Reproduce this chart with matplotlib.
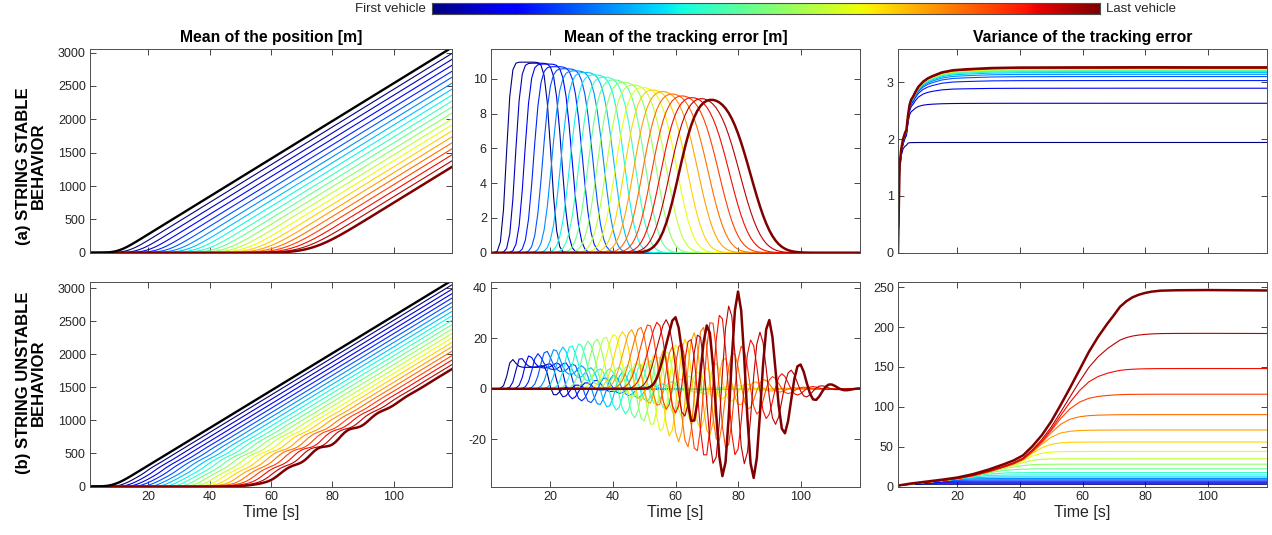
import math
import numpy as np
import matplotlib.pyplot as plt

plt.rcParams['font.family'] = ['Liberation Sans', 'DejaVu Sans']
plt.rcParams['axes.unicode_minus'] = False

# one sample per second, as in the simulation output
time = np.arange(1, 120, 1.0)
cruise_speed = 28.3  # slope of every position line [m/s]

# ---- string stable platoon ----
leader_end_a = 3050
leader_ramp_a = 2.9
pos_a_end = [2960, 2871, 2782, 2692, 2603, 2513, 2424, 2335, 2245, 2156,
             2066, 1977, 1888, 1798, 1709, 1619, 1530, 1440, 1350, 1259]
pos_a_ramp = [3.2, 3.4, 3.6, 3.8, 4.0, 4.2, 4.4, 4.6, 4.8, 5.0,
              5.2, 5.4, 5.6, 5.8, 6.0, 6.2, 6.4, 6.6, 6.8, 7.0]

err_a_peak = [10.96, 10.9, 10.85, 10.7, 10.58, 10.46, 10.37, 10.23, 10.1, 9.94,
              9.8, 9.65, 9.5, 9.36, 9.27, 9.13, 9.02, 8.92, 8.86, 8.79]
err_a_rise = [5.9, 8.8, 11.7, 14.6, 17.5, 20.4, 23.3, 26.2, 29.1, 32.0,
              34.9, 37.8, 40.7, 43.6, 46.5, 49.4, 52.3, 55.2, 58.1, 61.0]
err_a_fall = [20.2, 23.6, 26.9, 30.3, 33.6, 37.0, 40.3, 43.7, 47.1, 50.4,
              53.8, 57.1, 60.5, 63.8, 67.2, 70.5, 73.9, 77.3, 80.6, 84.0]
err_a_edge = [1.2, 1.4, 1.6, 1.75, 1.9, 2.1, 2.25, 2.4, 2.6, 2.75,
              2.9, 3.1, 3.25, 3.4, 3.6, 3.75, 3.9, 4.1, 4.3, 4.5]

var_a_final = [1.94, 2.63, 2.895, 3.03, 3.10, 3.14, 3.17, 3.19, 3.205, 3.215,
               3.225, 3.23, 3.235, 3.24, 3.245, 3.25, 3.253, 3.256, 3.258, 3.262]
var_a_env_t = [1, 1.5, 2, 2.6, 3.2, 3.7, 4.2, 4.7, 5.2, 5.8, 6.5, 7.5, 9, 10.5,
               12, 15, 18.5, 23, 31, 40, 55, 80, 100, 119]
var_a_env_v = [0, 1.45, 1.72, 1.9, 2.0, 2.06, 2.3, 2.48, 2.57, 2.62, 2.7, 2.8, 2.9, 2.97,
               3.02, 3.11, 3.17, 3.2, 3.24, 3.255, 3.26, 3.265, 3.262, 3.262]

# ---- string unstable platoon ----
leader_end_b = 3092
leader_ramp_b = 2.9
pos_b_end = [3025, 2958, 2891, 2824, 2757, 2690, 2623, 2556, 2489, 2422,
             2355, 2288, 2221, 2154, 2087, 2020, 1953, 1886, 1818, 1750]
pos_b_ramp = [3.0, 3.1, 3.2, 3.3, 3.4, 3.5, 3.6, 3.7, 3.8, 3.9,
              4.0, 4.1, 4.2, 4.3, 4.4, 4.5, 4.6, 4.7, 4.8, 4.9]

err_b_first_t = [7.2, 9.9, 12.7, 15.4, 18.1, 20.9, 23.6, 26.3, 29.0, 31.8,
                 34.5, 37.2, 40.0, 42.7, 45.4, 48.2, 50.9, 53.6, 56.3, 59.0]
err_b_first_v = [10.9, 11.5, 12.4, 13.2, 14.5, 15.3, 16.2, 17.0, 17.8, 18.7,
                 19.5, 20.5, 21.5, 22.3, 23.0, 24.0, 25.0, 25.5, 26.2, 27.0]
err_b_first_w = [1.3, 1.4, 1.5, 1.6, 1.7, 1.8, 1.85, 1.9, 2.0, 2.1,
                 2.2, 2.3, 2.4, 2.5, 2.6, 2.7, 2.75, 2.8, 2.8, 2.7]
err_b_level = [8.5, 8.6, 8.5, 8.2, 7.6, 6.8, 6.0, 5.2, 4.4, 3.6,
               3.0, 2.5, 2.0, 1.6, 1.3, 1.0, 0.8, 0.6, 0.4, 0.3]
err_b_hold = [12.3, 12.0, 11.6, 11.2, 10.8, 10.4, 10.0, 9.6, 9.2, 8.8,
              8.4, 8.0, 7.6, 7.2, 6.8, 6.4, 6.0, 5.6, 5.2, 4.8]
err_b_edge = [0.8, 0.9, 1.0, 1.1, 1.2, 1.3, 1.4, 1.5, 1.6, 1.7,
              1.8, 1.9, 2.0, 2.1, 2.2, 2.3, 2.4, 2.5, 2.6, 2.7]
err_b_amp = [2.7, 3.3, 4.0, 4.8, 5.6, 6.5, 7.5, 8.7, 10.3, 12.0,
             13.5, 15.5, 18.0, 20.0, 22.5, 25.0, 27.5, 30.0, 33.0, 38.5]
err_b_center = [21.0, 24.1, 27.2, 30.3, 33.4, 36.5, 39.6, 42.7, 45.8, 48.9,
                52.0, 55.1, 58.2, 61.3, 64.4, 67.5, 70.6, 73.7, 76.8, 80.0]
err_b_spread = [2.7, 3.8, 4.6, 5.4, 6.0, 6.6, 7.1, 7.6, 8.0, 8.5,
                8.9, 9.3, 9.7, 10.0, 10.4, 10.7, 11.1, 11.4, 11.7, 12.0]
err_b_crest = [26.4, 29.2, 32.0, 34.9, 37.7, 40.5, 43.3, 46.1, 49.0, 51.8,
               54.6, 57.4, 60.3, 63.1, 65.9, 68.7, 71.5, 74.4, 77.2, 80.0]
osc_period = 10.0

var_b_final = [2.8, 4.2, 5.5, 6.8, 8.3, 10.0, 12.0, 14.5, 17.5, 22.2,
               28.0, 34.8, 44.0, 55.8, 70.9, 90.2, 115.8, 148.0, 192.0, 246.0]
var_b_env_t = [1, 5, 10, 15, 20, 25, 30, 35, 38, 41, 44, 47, 50, 53, 56, 59, 62, 65,
               68, 70, 72, 74, 76, 78, 80, 82, 85, 90, 100, 110, 119]
var_b_env_v = [1.0, 3.2, 5.3, 7.4, 9.8, 13.5, 18.5, 24.5, 28.5, 34, 44, 56, 71, 89,
               108, 128, 149, 168, 186, 198, 212, 222, 230, 235.5, 239.5, 242.5, 245,
               246, 246.5, 246, 245.5]

n = len(pos_a_end)
colors = plt.cm.jet(np.linspace(0, 1, n))

_erf = np.vectorize(math.erf)


def cdf(z):
    return 0.5 * (1 + _erf(np.asarray(z) / math.sqrt(2)))


def pdf(z):
    return np.exp(-0.5 * np.asarray(z) ** 2) / math.sqrt(2 * math.pi)


def position(end, ramp):
    start = 118 - end / cruise_speed
    z = (time - start) / ramp
    return cruise_speed * ramp * (z * cdf(z) + pdf(z))


def stable_error(k):
    shape = cdf((time - err_a_rise[k]) / err_a_edge[k]) - \
        cdf((time - err_a_fall[k]) / (1.25 * err_a_edge[k]))
    return err_a_peak[k] * shape / shape.max()


def unstable_tail(k, t):
    p = err_b_first_t[k]
    w = err_b_edge[k]
    hold = err_b_level[k] * (cdf((t - p + 0.7) / w) - cdf((t - p - err_b_hold[k]) / w))
    d = t - err_b_center[k]
    sig = np.where(d < 0, 0.9, 1.0) * err_b_spread[k]
    wave = err_b_amp[k] * np.exp(-0.5 * (d / sig) ** 2) * \
        np.cos(2 * np.pi * (t - err_b_crest[k]) / osc_period)
    return hold + wave * cdf(t - p + 1.0)


def unstable_error(k):
    p = err_b_first_t[k]
    h = err_b_first_v[k] - float(unstable_tail(k, np.array([p]))[0])
    bump = h * np.exp(-0.5 * ((time - p) / err_b_first_w[k]) ** 2)
    return bump + unstable_tail(k, time)


def variance(env_t, env_v, final, sharp):
    v = np.asarray(env_v, dtype=float)
    x = v / final
    out = final * x / (1 + x ** sharp) ** (1.0 / sharp)
    return np.asarray(env_t), out * final / out[-1]


fig = plt.figure(figsize=(12.72, 5.35), dpi=100)
W, H = 1272, 535


def axes_px(x0, x1, y0, y1):
    return fig.add_axes([x0 / W, 1 - y1 / H, (x1 - x0) / W, (y1 - y0) / H])


cols = [(90, 452), (491, 860), (898, 1267)]
rows = [(49.3, 252.7), (281.7, 486.5)]
axs = [[axes_px(c[0], c[1], r[0], r[1]) for c in cols] for r in rows]

gray = '#262626'
for row in axs:
    for ax in row:
        ax.set_xlim(1, 119)
        ax.set_xticks([20, 40, 60, 80, 100])
        ax.tick_params(direction='in', top=True, right=True, length=4, width=0.6,
                       labelsize=9, colors=gray, pad=3)
        for s in ax.spines.values():
            s.set_color('#4d4d4d')
            s.set_linewidth(0.7)
for ax in axs[0]:
    ax.tick_params(labelbottom=False)
for ax in axs[1]:
    ax.set_xlabel('Time [s]', fontsize=11.5, color=gray, labelpad=2)


def lw(k):
    return 1.8 if k == n - 1 else 0.8


title_kw = dict(fontsize=11.3, fontweight='bold', pad=5)

# (a) positions
ax = axs[0][0]
for k in range(n):
    ax.plot(time, position(pos_a_end[k], pos_a_ramp[k]), color=colors[k], lw=lw(k))
ax.plot(time, position(leader_end_a, leader_ramp_a), color='black', lw=1.7)
ax.set_ylim(0, 3050)
ax.set_yticks(range(0, 3001, 500))
ax.set_title('Mean of the position [m]', **title_kw)

# (a) tracking error
ax = axs[0][1]
for k in range(n):
    ax.plot(time, stable_error(k), color=colors[k], lw=lw(k))
ax.set_ylim(0, 11.7)
ax.set_yticks([0, 2, 4, 6, 8, 10])
ax.set_title('Mean of the tracking error [m]', **title_kw)

# (a) variance
ax = axs[0][2]
for k in range(n):
    t, v = variance(var_a_env_t, var_a_env_v, var_a_final[k], 14)
    ax.plot(t, v, color=colors[k], lw=lw(k))
ax.set_ylim(0, 3.58)
ax.set_yticks([0, 1, 2, 3])
ax.set_title('Variance of the tracking error', **title_kw)

# (b) positions and tracking error
err_b = [unstable_error(k) for k in range(n)]
ax = axs[1][0]
for k in range(n):
    x = np.maximum(position(pos_b_end[k], pos_b_ramp[k]) - err_b[k], 0)
    ax.plot(time, x, color=colors[k], lw=lw(k))
ax.plot(time, position(leader_end_b, leader_ramp_b), color='black', lw=1.7)
ax.set_ylim(0, 3100)
ax.set_yticks(range(0, 3001, 500))

ax = axs[1][1]
for k in range(n):
    ax.plot(time, err_b[k], color=colors[k], lw=lw(k))
ax.set_ylim(-38.7, 42.4)
ax.set_yticks([-20, 0, 20, 40])

ax = axs[1][2]
for k in range(n):
    t, v = variance(var_b_env_t, var_b_env_v, var_b_final[k], 5)
    ax.plot(t, v, color=colors[k], lw=lw(k))
ax.set_ylim(0, 257)
ax.set_yticks(range(0, 251, 50))

# row labels
fig.text(31 / W, 1 - 166 / H, '(a) STRING STABLE\nBEHAVIOR', rotation=90, ha='center',
         va='center', fontsize=12, fontweight='bold', linespacing=1.0)
fig.text(31 / W, 1 - 383 / H, '(b) STRING UNSTABLE\nBEHAVIOR', rotation=90, ha='center',
         va='center', fontsize=12, fontweight='bold', linespacing=1.0)

# colour bar for the vehicle index
cax = axes_px(432, 1100, 3, 14)
cax.imshow(np.linspace(0, 1, 256)[None, :], cmap='jet', aspect='auto')
cax.set_xticks([])
cax.set_yticks([])
for s in cax.spines.values():
    s.set_color('#4d4d4d')
    s.set_linewidth(0.8)
fig.text(426 / W, 1 - 9 / H, 'First vehicle', ha='right', va='center', fontsize=9.5, color=gray)
fig.text(1106 / W, 1 - 9 / H, 'Last vehicle', ha='left', va='center', fontsize=9.5, color=gray)

fig.savefig('out.png', dpi=100)
